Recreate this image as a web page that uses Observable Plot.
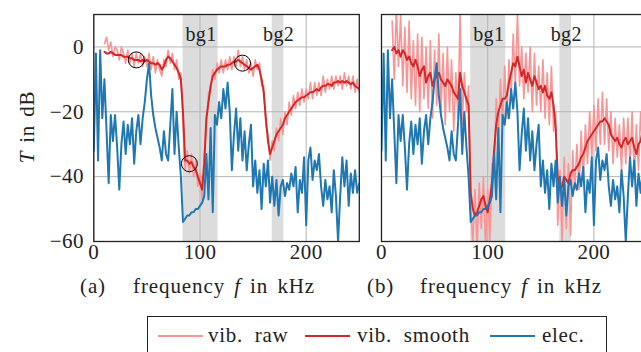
<!DOCTYPE html>
<html><head><meta charset="utf-8">
<script src="https://cdn.jsdelivr.net/npm/d3@7"></script>
<script src="https://cdn.jsdelivr.net/npm/@observablehq/plot@0.6"></script>
<style>
body{margin:0;background:#fff;}
#root{position:relative;width:641px;height:352px;overflow:hidden;font-family:"Liberation Serif",serif;color:#222;}
.panel{position:absolute;top:0;}
.panel svg{max-width:none !important;}
.cap{position:absolute;font-size:21px;white-space:pre;line-height:1;letter-spacing:0.9px;word-spacing:3px;}
#ylab{position:absolute;left:27px;top:127px;font-size:21px;white-space:pre;line-height:1;letter-spacing:0.8px;word-spacing:2px;transform:translate(-50%,-50%) rotate(-90deg);}
#legend{position:absolute;left:147px;top:316px;width:460px;height:60px;border:1.3px solid #222;box-sizing:border-box;}
.lg{position:absolute;top:8px;font-size:21px;white-space:pre;line-height:1;letter-spacing:0.7px;}
.sw{position:absolute;top:18px;width:45px;height:0;border-top:2.2px solid;}
</style></head>
<body><div id="root">
<div class="panel" id="pa" style="left:0;width:372px;"></div>
<div class="panel" id="pb" style="left:361px;width:300px;"></div>
<div id="ylab"><i>T</i> in dB</div>
<div class="cap" style="left:80px;top:276px;">(a)</div>
<div class="cap" style="left:133px;top:276px;">frequency <i>f</i> in kHz</div>
<div class="cap" style="left:367px;top:276px;">(b)</div>
<div class="cap" style="left:420px;top:276px;">frequency <i>f</i> in kHz</div>
<div id="legend">
  <div class="sw" style="left:10px;border-color:#fb9494;"></div>
  <div class="lg" style="left:60px;">vib.  raw</div>
  <div class="sw" style="left:157px;border-color:#d62728;"></div>
  <div class="lg" style="left:209px;">vib.  smooth</div>
  <div class="sw" style="left:342px;border-color:#1f77b4;"></div>
  <div class="lg" style="left:394px;">elec.</div>
</div>
</div>
<script>
// frequency grids (kHz)
const freqElec = d3.range(0, 251, 2);
const freqVib = d3.range(10, 251, 2);

// electrical transmission (same in both panels), dB
const elec = [
 -32, -2, -35, -1, -22, -10, -26, -42, -21, -29,
 -21, -31, -44, -30, -23, -33, -24, -30, -22, -36,
 -26, -21, -30, -22, -17, -10, -5, -15, -21, -25,
 -28, -31, -35, -26, -33, -35, -24, -13, -33, -20,
 -31, -40, -54, -53, -52, -52, -51, -51, -50, -50,
 -49, -48, -46, -33, -47, -25, -51, -21, -24, -17,
 -22, -13, -19, -11, -20, -38, -27, -19, -32, -22,
 -35, -26, -38, -30, -24, -43, -35, -45, -38, -50,
 -36, -43, -35, -48, -40, -49, -41, -52, -43, -41,
 -46, -42, -44, -39, -43, -37, -51, -41, -45, -34,
 -55, -35, -31, -41, -35, -38, -33, -43, -49, -41,
 -47, -43, -51, -38, -46, -60, -46, -34, -43, -35,
 -49, -39, -45, -38, -45, -42
];

// panel (a) vibration, dB (from 10 kHz)
const smoothA = [
 -1.5, -2, -2, -1.5, -2, -2.5, -2.5, -2.5, -2.5, -3,
 -3, -3, -3.5, -3.5, -4, -4, -4, -4.5, -4, -4.5,
 -4, -4.5, -5, -5, -5.5, -5, -5.5, -7, -6, -4,
 -3, -3.5, -4.5, -5.5, -6.5, -8, -10, -20, -35, -35,
 -36, -35.5, -37, -38, -40, -42, -44, -36, -22, -17,
 -12, -9, -8, -7, -6.5, -6, -6, -6, -5.5, -5.5,
 -5, -4.5, -4.5, -4, -4.5, -5, -5.5, -6, -6.5, -7,
 -6.5, -6, -5.5, -7, -10, -14, -22, -29, -33, -31,
 -29, -27, -26, -25, -24, -22, -21, -20, -19, -18,
 -17, -16.5, -16, -15.5, -15.5, -15, -14.5, -14, -14, -13.5,
 -13, -13.5, -12.5, -12, -12, -11.5, -11.5, -12, -11, -11,
 -10.5, -11, -10.5, -11, -10.5, -11, -11.5, -11, -12, -12.5,
 -13
];
const rawA = [
 1, 3, -1, 1.5, -3, 0, -1, -4, 0, -2,
 -5, -1, -5, -2, -6, -2, -5, -2, -6, -3,
 -6, -2, -7, -3, -8, -4, -7, -9, -4, -6,
 -1, -5, -2, -7, -4, -10, -8, -24, -38, -32,
 -39, -33, -40, -35, -43, -39, -47, -33, -25, -14,
 -14, -7, -10, -5, -8, -4, -8, -4, -7, -3,
 -7, -3, -6, -1, -6, -3, -7, -4, -8, -5,
 -9, -4, -7, -5, -12, -12, -24, -27, -35, -29,
 -32, -25, -29, -22, -27, -20, -24, -17, -21, -15,
 -19, -14, -18, -13, -17, -13, -16, -11, -16, -11,
 -15, -11, -15, -9, -14, -10, -13, -9, -13, -9,
 -12, -9, -13, -8, -12, -9, -13, -9, -14, -10,
 -14
];

// panel (b) vibration, dB (from 10 kHz)
const smoothB = [
 -1, 0, -2, -1, -3, -1, -2, -4, -3, -5,
 -6, -4, -6, -9, -7, -6, -11, -9, -8, -12,
 -10, -9, -8, -10, -11, -12, -10, -11, -12, -14,
 -15, -16, -8, -12, -14, -16, -18, -45, -50, -52,
 -51, -49, -47, -46, -49, -51, -47, -42, -32, -24,
 -20, -18, -16, -16, -15, -11, -8, -5, -6, -3,
 -6, -9, -7, -11, -8, -10, -12, -9, -11, -13,
 -12, -14, -12, -15, -16, -14, -18, -25, -40, -44,
 -43, -40, -41, -42, -39, -38, -38, -37, -36, -34,
 -33, -31, -29, -28, -27, -26, -25, -24, -23, -23,
 -22, -23, -24, -27, -28, -29, -28, -30, -31, -29,
 -28, -30, -29, -28, -31, -33, -30, -29, -26, -27,
 -28
];
const rawB = [
 8, -10, 12, -6, 10, -12, 6, -14, 8, -16,
 2, -18, 4, -20, 3, -16, 0, -19, 2, -22,
 -1, -18, 4, -20, -2, -24, 0, -20, -4, -26,
 -8, -22, 10, -24, -8, -20, -12, -50, -60, -44,
 -62, -42, -56, -40, -62, -44, -60, -36, -40, -16,
 -28, -10, -24, -6, -22, -4, -16, 4, -12, 10,
 -12, 0, -16, -2, -14, 0, -20, -2, -18, -6,
 -20, -4, -22, -8, -24, -6, -26, -20, -55, -38,
 -60, -34, -56, -36, -58, -32, -44, -30, -44, -26,
 -40, -24, -36, -20, -34, -18, -32, -16, -30, -14,
 -30, -16, -32, -20, -36, -22, -34, -24, -38, -22,
 -36, -22, -36, -20, -40, -24, -38, -20, -32, -18,
 -34
];

// band gaps
const bandStart = [84, 168];
const bandEnd = [117, 179];
const bandLabels = ["bg1", "bg2"];
const bandLabelX = [101, 174];
const bandLabelY = [3.9, 3.9];

// highlighted points in panel (a)
const circleF = [40, 90, 140];
const circleT = [-4, -36, -5];

const xTicks = [0, 100, 200];
const yTicks = [-60, -40, -20, 0];

const C_RAW = "#fb9494", C_SMOOTH = "#d62728", C_ELEC = "#1f77b4";

function rows(xs, ys) { return xs.map((f, i) => ({f, v: ys[i]})); }
const bands = bandStart.map((s, i) => ({x1: s, x2: bandEnd[i]}));
const labels = bandLabels.map((t, i) => ({x: bandLabelX[i], y: bandLabelY[i], t}));
const circles = circleF.map((f, i) => ({f, v: circleT[i]}));

function panel(raw, smooth, showY, withCircles, ml, width) {
  return Plot.plot({
    width, height: 262,
    marginLeft: ml, marginRight: width - ml - 265.5, marginTop: 14, marginBottom: 21,
    x: {domain: [0, 250], ticks: xTicks, tickSize: 0, tickPadding: 3, label: null},
    y: {domain: [-60, 10], ticks: yTicks, tickSize: 0, tickPadding: 10, label: null, axis: showY ? "left" : null},
    style: {fontFamily: "Liberation Serif", fontSize: "21px", color: "#222", background: "transparent", overflow: "visible", maxWidth: "none", letterSpacing: "0.4px"},
    marks: [
      Plot.rect(bands, {x1: "x1", x2: "x2", fill: "#dcdcdc"}),
      Plot.ruleX(xTicks, {stroke: "#b4b4b4", strokeWidth: 1}),
      Plot.ruleY(yTicks, {stroke: "#b4b4b4", strokeWidth: 1}),
      Plot.line(rows(freqVib, raw), {x: "f", y: "v", stroke: C_RAW, strokeWidth: 1.6, clip: true}),
      Plot.line(rows(freqVib, smooth), {x: "f", y: "v", stroke: C_SMOOTH, strokeWidth: 2, clip: true}),
      Plot.line(rows(freqElec, elec), {x: "f", y: "v", stroke: C_ELEC, strokeWidth: 2, clip: true}),
      Plot.text(labels, {x: "x", y: "y", text: "t", fontSize: 20, fill: "#222"}),
      withCircles ? Plot.dot(circles, {x: "f", y: "v", r: 8, stroke: "black", strokeWidth: 1, fill: "none"}) : null,
      Plot.frame({stroke: "#222", strokeWidth: 1.3})
    ]
  });
}

document.getElementById("pa").append(panel(rawA, smoothA, true, true, 93.3, 372));
document.getElementById("pb").append(panel(rawB, smoothB, false, false, 20, 300));
</script>
</body></html>
